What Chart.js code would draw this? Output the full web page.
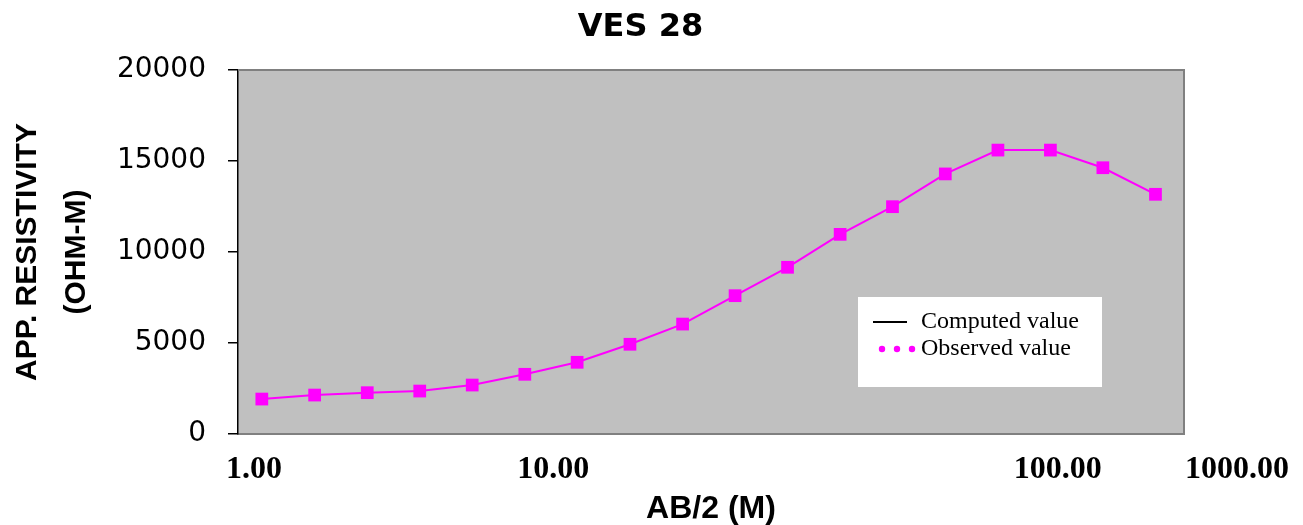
<!DOCTYPE html>
<html>
<head>
<meta charset="utf-8">
<title>VES 28</title>
<script src="https://cdn.jsdelivr.net/npm/chart.js@4.4.0/dist/chart.umd.min.js"></script>
<style>
  body { margin: 0; background: #ffffff; }
</style>
</head>
<body>
<canvas id="ves-chart" width="1303" height="525"></canvas>
<script>
// AB/2 spacing (m) and apparent resistivity (ohm-m)
let ab2 = [1.19, 1.75, 2.57, 3.77, 5.53, 8.12, 11.9, 17.5, 25.7, 37.7, 55.3, 81.2, 119, 175, 257, 377, 553, 812];
let observed = [1920, 2140, 2270, 2360, 2690, 3280, 3940, 4930, 6040, 7600, 9160, 10970, 12490, 14290, 15600, 15600, 14630, 13170];
let computed = [];

let xTickValues = [1, 10, 100, 1000];
let xTickLabels = ['1.00', '10.00', '100.00', '1000.00'];
let seriesNames = ['Computed value', 'Observed value'];

function toPoints(xs, ys) {
    let pts = [];
    for (let i = 0; i < ys.length; i++) {
        pts.push({ x: xs[i], y: ys[i] });
    }
    return pts;
}

// grey plot area with its frame
const plotFrame = {
    id: 'plotFrame',
    beforeDraw(chart) {
        let { ctx, chartArea: a } = chart;
        ctx.save();
        ctx.fillStyle = '#c0c0c0';
        ctx.fillRect(a.left, a.top, a.right - a.left, a.bottom - a.top);
        ctx.restore();
    },
    beforeDatasetsDraw(chart) {
        let { ctx, chartArea: a } = chart;
        ctx.save();
        ctx.strokeStyle = '#808080';
        ctx.lineWidth = 2;
        ctx.beginPath();
        ctx.moveTo(a.left, a.top);
        ctx.lineTo(a.right, a.top);
        ctx.lineTo(a.right, a.bottom);
        ctx.stroke();
        ctx.restore();
    }
};

// x tick labels sit where the original program put them, not on the decades
const xLabels = {
    id: 'xLabels',
    afterDraw(chart, args, opts) {
        let { ctx, chartArea: a } = chart;
        let xs = chart.scales.x;
        ctx.save();
        ctx.font = 'bold 32px "Liberation Serif", "Times New Roman", serif';
        ctx.fillStyle = '#000000';
        ctx.textAlign = 'center';
        ctx.textBaseline = 'middle';
        for (let i = 0; i < xTickValues.length; i++) {
            let px = xs.getPixelForValue(xTickValues[i]) + opts.shift[i];
            ctx.fillText(xTickLabels[i], px, a.bottom + 36);
        }
        ctx.restore();
    }
};

// boxed legend inside the plot
const boxLegend = {
    id: 'boxLegend',
    afterDraw(chart, args, opts) {
        let ctx = chart.ctx;
        let b = opts.box;
        ctx.save();
        ctx.fillStyle = '#ffffff';
        ctx.fillRect(b.x, b.y, b.w, b.h);
        ctx.font = '24px "Liberation Serif", "Times New Roman", serif';
        ctx.textBaseline = 'middle';
        ctx.textAlign = 'left';
        chart.data.datasets.forEach((ds, i) => {
            let y = b.y + 25 + i * 27;
            if (i === 0) {
                ctx.strokeStyle = ds.borderColor;
                ctx.lineWidth = 2;
                ctx.beginPath();
                ctx.moveTo(b.x + 15, y);
                ctx.lineTo(b.x + 49, y);
                ctx.stroke();
            } else {
                ctx.fillStyle = ds.borderColor;
                for (let k = 0; k < 3; k++) {
                    ctx.beginPath();
                    ctx.arc(b.x + 24 + k * 15, y, 3.2, 0, Math.PI * 2);
                    ctx.fill();
                }
            }
            ctx.fillStyle = '#000000';
            ctx.fillText(ds.label, b.x + 63, y);
        });
        ctx.restore();
    }
};

var ctx = document.getElementById('ves-chart');
var chart = new Chart(ctx, {
    type: 'line',
    data: {
        datasets: [
            {
                label: seriesNames[0],
                data: toPoints(ab2, computed),
                borderColor: '#000000',
                borderWidth: 2,
                pointRadius: 0,
                tension: 0
            },
            {
                label: seriesNames[1],
                data: toPoints(ab2, observed),
                borderColor: '#ff00ff',
                backgroundColor: '#ff00ff',
                borderWidth: 2,
                pointStyle: 'rect',
                pointRadius: 9,
                pointBorderWidth: 0,
                pointBackgroundColor: '#ff00ff',
                tension: 0
            }
        ]
    },
    options: {
        responsive: false,
        animation: false,
        layout: { padding: { left: 0, right: 22, top: 0, bottom: 0 } },
        scales: {
            x: {
                type: 'logarithmic',
                min: 1,
                max: 1000,
                afterFit(scale) { scale.height = 91; },
                grid: { display: false },
                border: { display: true, color: '#808080', width: 2 },
                ticks: { display: false },
                title: {
                    display: true,
                    text: 'AB/2 (M)',
                    color: '#000000',
                    font: { family: '"Liberation Sans", Arial, sans-serif', size: 32, weight: 'bold', lineHeight: 1 },
                    padding: { top: 0, bottom: 0 }
                }
            },
            y: {
                min: 0,
                max: 20000,
                afterFit(scale) { scale.width = 238; },
                grid: { drawOnChartArea: false, drawTicks: true, tickLength: 10, color: '#000000', lineWidth: 1.5 },
                border: { display: true, color: '#000000', width: 1.5 },
                ticks: {
                    stepSize: 5000,
                    padding: 22,
                    color: '#000000',
                    font: { family: '"DejaVu Sans", sans-serif', size: 28 },
                    callback: (v) => String(v)
                },
                title: {
                    display: true,
                    text: ['APP. RESISTIVITY', '(OHM-M)'],
                    color: '#000000',
                    font: { family: '"Liberation Sans", Arial, sans-serif', size: 30, weight: 'bold', lineHeight: 1.63 },
                    padding: { top: 3, bottom: 0 }
                }
            },
            // empty right-hand strip so the title centres like the original
            yRight: {
                position: 'right',
                min: 0,
                max: 20000,
                afterFit(scale) { scale.width = 97; },
                grid: { display: false },
                border: { display: false },
                ticks: { display: false }
            }
        },
        plugins: {
            legend: { display: false },
            tooltip: { enabled: false },
            title: {
                display: true,
                text: 'VES 28',
                color: '#000000',
                font: { family: '"DejaVu Sans", sans-serif', size: 32, weight: 'bold', lineHeight: 1.2 },
                padding: { top: 8, bottom: 23.6 }
            },
            xLabels: { shift: [16, 0, 189, 53] },
            boxLegend: { box: { x: 858, y: 297, w: 244, h: 90 } }
        }
    },
    plugins: [plotFrame, xLabels, boxLegend]
});
</script>
</body>
</html>
